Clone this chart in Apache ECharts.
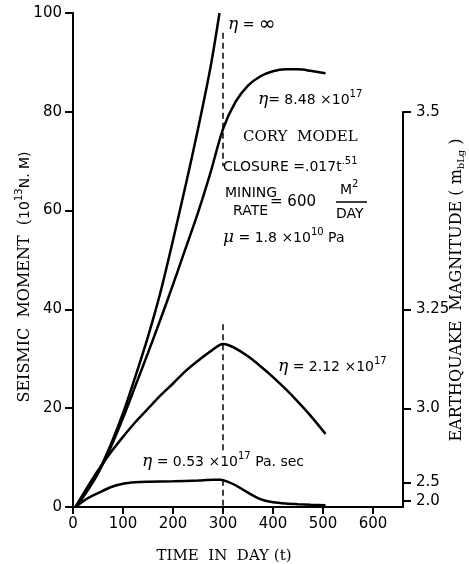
<!DOCTYPE html>
<html>
<head>
<meta charset="utf-8">
<script src="https://cdn.jsdelivr.net/npm/echarts@6/dist/echarts.min.js"></script>
<style>
html, body { margin: 0; padding: 0; background: #fff; }
#chart { width: 469px; height: 564px; }
</style>
</head>
<body>
<div id="chart"></div>
<script>
// days / seismic moment (10^13 N.M)
const tInf = [5, 25, 50, 75, 100, 125, 150, 175, 200, 225, 250, 275, 293];
const mInf = [0, 2.8, 7, 12.5, 19, 26.5, 34.5, 43.5, 54, 65, 76.5, 89, 100];

const t848 = [5, 25, 50, 75, 100, 125, 150, 175, 200, 225, 250, 275, 300, 325, 350, 375, 400, 425, 450, 475, 505];
const m848 = [0, 2.7, 6.8, 12, 18, 24.6, 31.2, 38, 45, 52.3, 59.6, 67.7, 76.5, 82, 85.3, 87.2, 88.2, 88.6, 88.6, 88.3, 87.8];

const t212 = [5, 25, 50, 75, 100, 125, 150, 175, 200, 225, 250, 275, 300, 310, 325, 350, 375, 400, 425, 450, 475, 505];
const m212 = [0, 3.4, 7.4, 11, 14.2, 17.2, 19.9, 22.6, 25, 27.5, 29.6, 31.5, 33, 32.8, 32.1, 30.5, 28.5, 26.3, 23.9, 21.3, 18.5, 14.8];

const t053 = [5, 25, 50, 75, 100, 125, 150, 200, 250, 280, 295, 310, 325, 340, 355, 370, 385, 400, 425, 450, 475, 505];
const m053 = [0, 1.5, 2.8, 4.0, 4.7, 5.0, 5.1, 5.2, 5.35, 5.5, 5.5, 5.1, 4.4, 3.5, 2.6, 1.8, 1.25, 0.95, 0.7, 0.55, 0.45, 0.35];

// dashed markers at end of mining (t = 300)
const dashDay = 300;
const dashUpper = [96, 69];
const dashMiddle = [37, 11.5];
const dashLower = [5.5, 0];

// ticks
const dayTicks = [0, 100, 200, 300, 400, 500, 600];
const magLabels = ['2.0', '2.5', '3.0', '3.25', '3.5'];
const magMoment = [1.25, 5, 20, 40, 80];

const zip = (xs, ys) => xs.map((x, i) => [x, ys[i]]);

const sans = 'DejaVu Sans';
const serif = 'DejaVu Serif';

const curve = (data) => ({
  type: 'line',
  data: data,
  smooth: 0.3,
  symbol: 'none',
  lineStyle: { color: '#000', width: 2.5 },
  silent: true
});
const dash = (ys) => ({
  type: 'line',
  data: ys.map(y => [dashDay, y]),
  symbol: 'none',
  lineStyle: { color: '#000', width: 1.5, type: [6, 4] },
  silent: true
});

const rich = {
  e: { fontFamily: serif, fontStyle: 'italic', fontSize: 17 },
  s: { fontFamily: sans, fontSize: 14 },
  big: { fontFamily: sans, fontSize: 20 },
  sup: { fontFamily: sans, fontSize: 10, padding: [0, 0, 12, 0] },
  sr: { fontFamily: serif, fontSize: 16 },
  sub: { fontFamily: serif, fontSize: 10, padding: [8, 0, 0, 0] }
};
const txt = (x, y, text, extra) => ({
  type: 'text',
  x: x,
  y: y,
  rotation: extra && extra.rotate ? Math.PI / 2 : 0,
  style: {
    text: text,
    fill: '#000',
    rich: rich,
    align: extra && extra.align ? extra.align : 'left',
    verticalAlign: 'middle',
    font: (extra && extra.font) || '14px ' + sans
  }
});

const axisLine = { show: true, onZero: false, lineStyle: { color: '#000', width: 2 } };
const tickStyle = { color: '#000', width: 2 };
const labelStyle = { color: '#000', fontFamily: sans, fontSize: 15 };

const chart = echarts.init(document.getElementById('chart'));
chart.setOption({
  animation: false,
  grid: [
    { left: 73, right: 66, top: 13, bottom: 57 },
    { left: 73, right: 66, top: 112, bottom: 57 }
  ],
  xAxis: [
    {
      gridIndex: 0, type: 'value', min: 0, max: 660,
      axisLine: axisLine,
      axisTick: { customValues: dayTicks, length: 7, lineStyle: tickStyle },
      axisLabel: Object.assign({ customValues: dayTicks, margin: 10 }, labelStyle),
      splitLine: { show: false }
    },
    { gridIndex: 1, type: 'value', min: 0, max: 660, show: false }
  ],
  yAxis: [
    {
      gridIndex: 0, type: 'value', min: 0, max: 100, interval: 20,
      axisLine: axisLine,
      axisTick: { show: true, length: 8, lineStyle: tickStyle },
      axisLabel: Object.assign({ margin: 11 }, labelStyle),
      splitLine: { show: false }
    },
    {
      gridIndex: 1, type: 'value', position: 'right', min: 0, max: 80,
      axisLine: axisLine,
      axisTick: { show: true, customValues: magMoment, length: 8, lineStyle: tickStyle },
      axisLabel: Object.assign({
        customValues: magMoment, margin: 13,
        formatter: v => magLabels[magMoment.indexOf(v)]
      }, labelStyle),
      splitLine: { show: false }
    }
  ],
  series: [
    curve(zip(tInf, mInf)),
    curve(zip(t848, m848)),
    curve(zip(t212, m212)),
    curve(zip(t053, m053)),
    dash(dashUpper),
    dash(dashMiddle),
    dash(dashLower)
  ],
  graphic: [
    txt(25, 277, '{sr|SEISMIC  MOMENT  (}{s|10}{sup|13}{s|N. M)}', { rotate: true, align: 'center' }),
    txt(457, 290, '{sr|EARTHQUAKE  MAGNITUDE ( m}{sub|bLg}{sr| )}', { rotate: true, align: 'center' }),
    txt(224, 556, 'TIME  IN  DAY (t)', { align: 'center', font: '15px ' + serif }),
    txt(228, 25, '{e|η}{s| = }{big|∞}'),
    txt(258, 100, '{e|η}{s|= 8.48 ×10}{sup|17}'),
    txt(243, 137, 'CORY  MODEL', { font: '15px ' + serif }),
    txt(223, 167, '{s|CLOSURE =.017t}{sup|.51}'),
    txt(225, 193, 'MINING'),
    txt(233, 211, 'RATE'),
    txt(270, 202, '= 600', { font: '15px ' + sans }),
    txt(340, 190, '{s|M}{sup|2}'),
    txt(336, 214, 'DAY'),
    {
      type: 'line',
      shape: { x1: 336, y1: 202, x2: 367, y2: 202 },
      style: { stroke: '#000', lineWidth: 1.5 }
    },
    txt(223, 238, '{e|μ}{s| = 1.8 ×10}{sup|10}{s| Pa}'),
    txt(278, 367, '{e|η}{s| = 2.12 ×10}{sup|17}'),
    txt(142, 462, '{e|η}{s| = 0.53 ×10}{sup|17}{s| Pa. sec}')
  ]
});
</script>
</body>
</html>
